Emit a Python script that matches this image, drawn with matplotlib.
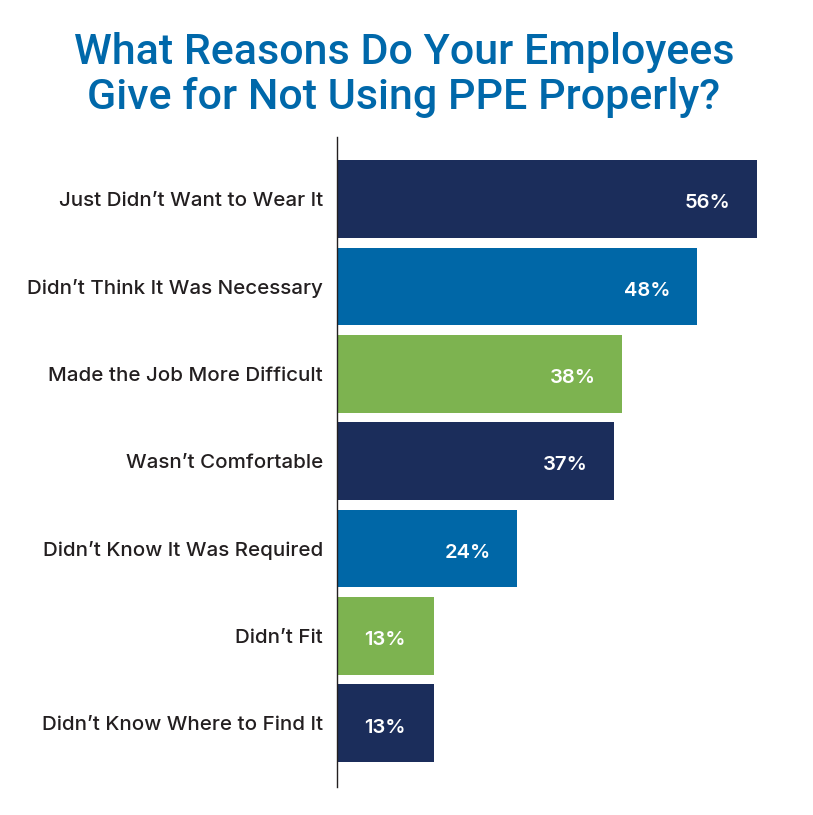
import matplotlib.pyplot as plt

plt.rcParams['font.family'] = ['Inter', 'DejaVu Sans']

# data
reasons = [
    "Just Didn\u2019t Want to Wear It",
    "Didn\u2019t Think It Was Necessary",
    "Made the Job More Difficult",
    "Wasn\u2019t Comfortable",
    "Didn\u2019t Know It Was Required",
    "Didn\u2019t Fit",
    "Didn\u2019t Know Where to Find It",
]
percents = [56, 48, 38, 37, 24, 13, 13]

navy = "#1b2d5b"
blue = "#0067a7"
green = "#7db350"
bar_colors = [navy, blue, green, navy, blue, green, navy]

fig = plt.figure(figsize=(8.13, 8.15), dpi=100)
ax = fig.add_axes([337 / 813, 28 / 815, 476 / 813, 650 / 815])

pos = list(range(len(reasons)))
ax.barh(pos, percents, height=0.89, color=bar_colors)

for p, v in zip(pos, percents):
    ax.text(v - 6.6, p + 0.05, f"{v}%", ha="center", va="center",
            color="white", fontsize=14.5, fontweight="semibold")

ax.set_xlim(0, 63.5)
ax.set_ylim(6.73, -0.71)
ax.set_yticks(pos)
ax.set_yticklabels(reasons, fontsize=14.8, fontweight="medium", color="#231f20")
ax.tick_params(axis="y", length=0, pad=10)
ax.set_xticks([])

for s in ["top", "right", "bottom"]:
    ax.spines[s].set_visible(False)
ax.spines["left"].set_color("#231f20")
ax.spines["left"].set_linewidth(1.0)

fig.text(404 / 813, 1 - 75 / 815,
         "What Reasons Do Your Employees\nGive for Not Using PPE Properly?",
         ha="center", va="center", fontsize=31, fontweight="medium",
         color="#0068aa", linespacing=1.12,
         family=["Roboto", "DejaVu Sans"])

fig.savefig("out.png", dpi=100)
